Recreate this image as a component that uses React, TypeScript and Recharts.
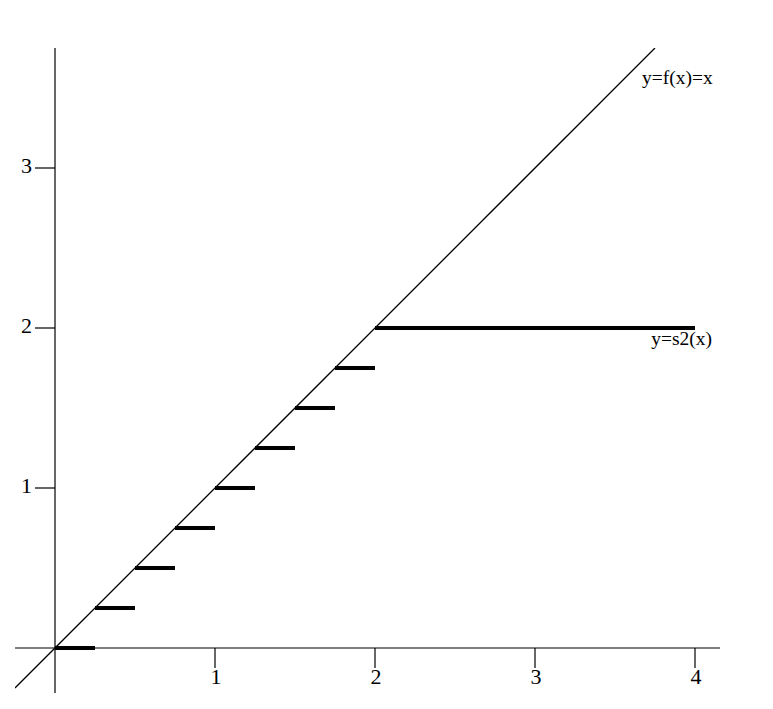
import React from 'react';
import { LineChart, Line, XAxis, YAxis, ReferenceLine, ReferenceDot } from 'recharts';

// y = f(x) = x, drawn from end to end
const identityX = [-0.25, 3.75];
const identityY = [-0.25, 3.75];

// y = s2(x): flat pieces
const stepStarts = [0, 0.25, 0.5, 0.75, 1, 1.25, 1.5, 1.75, 2];
const stepEnds = [0.25, 0.5, 0.75, 1, 1.25, 1.5, 1.75, 2, 4];
const stepLevels = [0, 0.25, 0.5, 0.75, 1, 1.25, 1.5, 1.75, 2];

const xTicks = [1, 2, 3, 4];
const yTicks = [1, 2, 3];

const identityData = identityX.map((x, i) => ({ x, y: identityY[i] }));
const stepData = stepStarts.flatMap((s, i) => [
  { x: s, y: stepLevels[i] },
  { x: stepEnds[i], y: stepLevels[i] },
  { x: stepEnds[i], y: null },
]);

const serif = 'Liberation Serif, Times New Roman, serif';

const tag = (text: string, dx: number, dy: number, anchor: 'start' | 'end', size = 19.5) => (props: any) => {
  const vb = props.viewBox || {};
  return (
    <text x={vb.x + dx} y={vb.y + dy} textAnchor={anchor} fontSize={size} fontFamily={serif} fill="#000">
      {text}
    </text>
  );
};

// tick labels sit under / left of the tick segment
const xTickLabel = (text: string) => (props: any) => {
  const vb = props.viewBox || {};
  return (
    <text x={vb.x + 1} y={vb.y + vb.height + 16} textAnchor="middle" fontSize={22} fontFamily={serif} fill="#000">
      {text}
    </text>
  );
};
const yTickLabel = (text: string) => (props: any) => {
  const vb = props.viewBox || {};
  return (
    <text x={vb.x - 3} y={vb.y + 5} textAnchor="end" fontSize={22} fontFamily={serif} fill="#000">
      {text}
    </text>
  );
};

const App = () => (
  <LineChart
    width={740}
    height={690}
    margin={{ top: 40, right: 28, bottom: 5, left: 7 }}
    style={{ fontFamily: serif }}
  >
    <XAxis type="number" dataKey="x" domain={[-0.25, 4.15625]} allowDataOverflow hide />
    <YAxis type="number" domain={[-0.28125, 3.75]} allowDataOverflow hide />

    <ReferenceLine y={0} stroke="#000" strokeWidth={1.2} />
    <ReferenceLine x={0} stroke="#000" strokeWidth={1.2} />

    {xTicks.map((t) => (
      <ReferenceLine
        key={'x' + t}
        segment={[{ x: t, y: 0 }, { x: t, y: -0.125 }]}
        stroke="#000"
        strokeWidth={1.2}
        label={xTickLabel(String(t))}
      />
    ))}
    {yTicks.map((t) => (
      <ReferenceLine
        key={'y' + t}
        segment={[{ x: -0.125, y: t }, { x: 0, y: t }]}
        stroke="#000"
        strokeWidth={1.2}
        label={yTickLabel(String(t))}
      />
    ))}

    <Line
      data={identityData}
      dataKey="y"
      type="linear"
      stroke="#000"
      strokeWidth={1.3}
      dot={false}
      activeDot={false}
      isAnimationActive={false}
    />
    <Line
      data={stepData}
      dataKey="y"
      type="linear"
      stroke="#000"
      strokeWidth={4}
      strokeLinecap="butt"
      dot={false}
      activeDot={false}
      connectNulls={false}
      isAnimationActive={false}
    />

    <ReferenceDot x={3.75} y={3.75} r={0} stroke="none" label={tag('y=f(x)=x', -13, 36, 'start')} />
    <ReferenceDot x={4} y={2} r={0} stroke="none" label={tag('y=s2(x)', 17, 17, 'end')} />
  </LineChart>
);

export default App;
